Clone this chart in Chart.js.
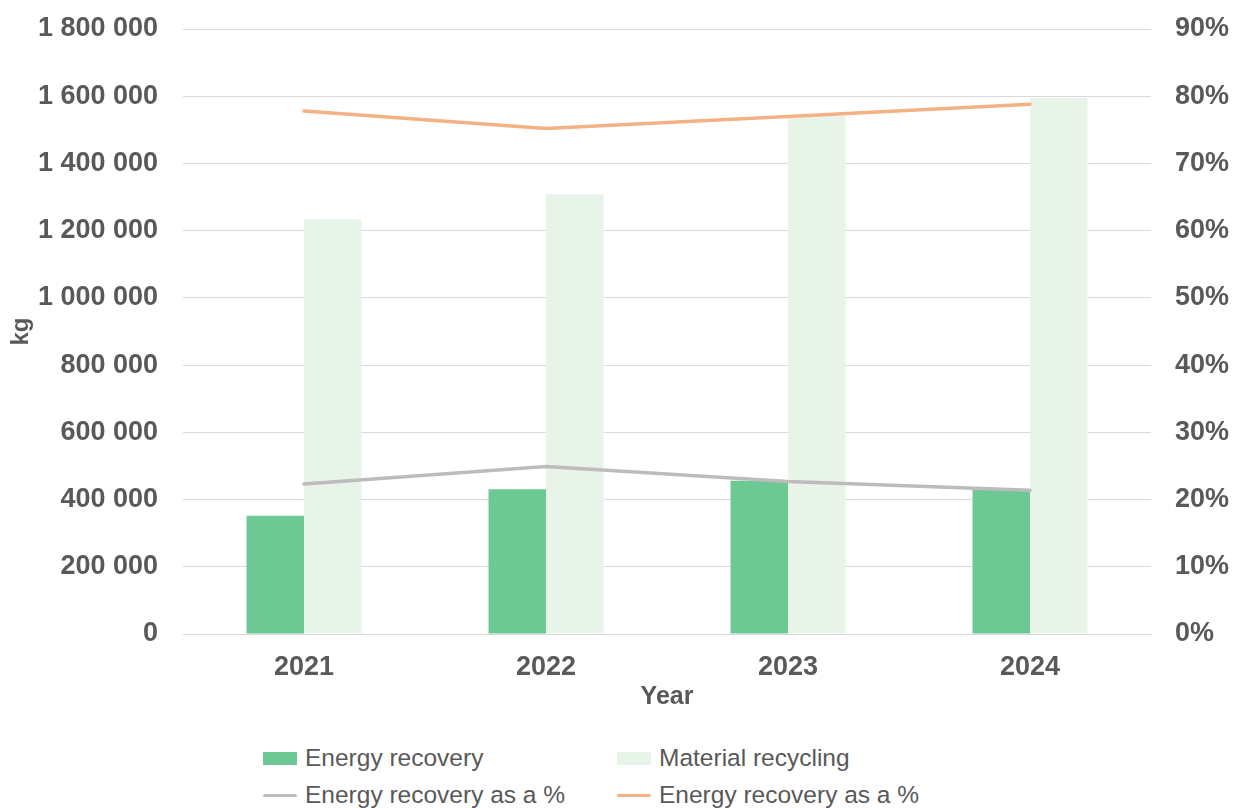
<!DOCTYPE html>
<html>
<head>
<meta charset="utf-8">
<script src="https://cdn.jsdelivr.net/npm/chart.js@4/dist/chart.umd.min.js"></script>
<style>
    html, body { margin: 0; padding: 0; background: #ffffff; }
    #wrap { position: relative; width: 1236px; height: 808px; font-family: "Liberation Sans", Arial, sans-serif; }
    #chartBox { position: absolute; left: 0; top: 0; width: 1236px; height: 720px; }
    #legend { position: absolute; left: 263px; top: 743px; display: grid; grid-template-columns: 354px 354px; row-gap: 7px; }
    .item { display: flex; align-items: center; height: 30px; color: #595959; font-size: 24.5px; }
    .swatch { width: 34px; margin-right: 8px; flex: none; }
</style>
</head>
<body>
<div id="wrap">
    <div id="chartBox"><canvas id="chart"></canvas></div>
    <div id="legend"></div>
</div>
<script>
// Данные графика
const years = ['2021', '2022', '2023', '2024'];
const energyRecovery = [352000, 431000, 456000, 429000];
const materialRecycling = [1234000, 1308000, 1541000, 1595000];
const energyPct = [22.3, 24.9, 22.7, 21.4];
const materialPct = [77.8, 75.2, 77.0, 78.8];

const textColor = '#595959';
const gridColor = '#d9d9d9';
const fontFamily = '"Liberation Sans", Arial, sans-serif';

function formatKg(v) {
    return String(v).replace(/\B(?=(\d{3})+(?!\d))/g, ' ');
}

const ctx = document.getElementById('chart').getContext('2d');

const chart = new Chart(ctx, {
    type: 'bar',
    data: {
        labels: years,
        datasets: [
            {
                label: 'Energy recovery',
                data: energyRecovery,
                backgroundColor: '#6cc993',
                yAxisID: 'y',
                order: 1
            },
            {
                label: 'Material recycling',
                data: materialRecycling,
                backgroundColor: '#e7f4e7',
                yAxisID: 'y',
                order: 1
            },
            {
                type: 'line',
                label: 'Energy recovery as a %',
                data: energyPct,
                borderColor: '#bcbcbc',
                backgroundColor: '#bcbcbc',
                borderWidth: 3.5,
                pointRadius: 0,
                tension: 0,
                borderCapStyle: 'round',
                yAxisID: 'y1',
                order: 0
            },
            {
                type: 'line',
                label: 'Energy recovery as a %',
                data: materialPct,
                borderColor: '#f4b183',
                backgroundColor: '#f4b183',
                borderWidth: 3.5,
                pointRadius: 0,
                tension: 0,
                borderCapStyle: 'round',
                yAxisID: 'y1',
                order: 0
            }
        ]
    },
    options: {
        responsive: true,
        maintainAspectRatio: false,
        animation: false,
        datasets: {
            bar: {
                barPercentage: 1,
                categoryPercentage: 0.475
            }
        },
        layout: {
            padding: { top: 29, left: 0, right: 0, bottom: 0 }
        },
        plugins: {
            legend: { display: false },
            tooltip: { enabled: false }
        },
        scales: {
            x: {
                grid: { display: false, drawTicks: false },
                border: { display: true, color: gridColor, width: 1 },
                ticks: {
                    color: textColor,
                    padding: 17,
                    font: { family: fontFamily, size: 27, weight: 'bold' }
                },
                title: {
                    display: true,
                    text: 'Year',
                    color: textColor,
                    padding: { top: 0, bottom: 8 },
                    font: { family: fontFamily, size: 25, weight: 'bold' }
                },
                afterFit: function(scale) { scale.height = 86; }
            },
            y: {
                position: 'left',
                min: 0,
                max: 1800000,
                grid: { color: gridColor, drawTicks: false },
                border: { display: false },
                ticks: {
                    stepSize: 200000,
                    color: textColor,
                    padding: 25,
                    font: { family: fontFamily, size: 27, weight: 'bold' },
                    callback: function(value) { return formatKg(value); }
                },
                title: {
                    display: true,
                    text: 'kg',
                    color: textColor,
                    padding: { top: 7, bottom: 0 },
                    font: { family: fontFamily, size: 24, weight: 'bold' }
                },
                afterFit: function(scale) {
                    scale.width = 183;
                    scale.paddingTop = 0;
                    scale.paddingBottom = 0;
                }
            },
            y1: {
                position: 'right',
                min: 0,
                max: 90,
                grid: { display: false, drawTicks: false },
                border: { display: false },
                ticks: {
                    stepSize: 10,
                    color: textColor,
                    padding: 24,
                    font: { family: fontFamily, size: 27, weight: 'bold' },
                    callback: function(value) { return value + '%'; }
                },
                afterFit: function(scale) {
                    scale.width = 85;
                    scale.paddingTop = 0;
                    scale.paddingBottom = 0;
                }
            }
        }
    }
});

// Легенда в две колонки, как в оригинале
const legendEl = document.getElementById('legend');
chart.data.datasets.forEach(function(ds) {
    const item = document.createElement('div');
    item.className = 'item';
    const sw = document.createElement('span');
    sw.className = 'swatch';
    if (ds.type === 'line') {
        sw.style.height = '3px';
        sw.style.borderRadius = '2px';
        sw.style.background = ds.borderColor;
    } else {
        sw.style.height = '13px';
        sw.style.background = ds.backgroundColor;
    }
    const label = document.createElement('span');
    label.textContent = ds.label;
    item.appendChild(sw);
    item.appendChild(label);
    legendEl.appendChild(item);
});
</script>
</body>
</html>
